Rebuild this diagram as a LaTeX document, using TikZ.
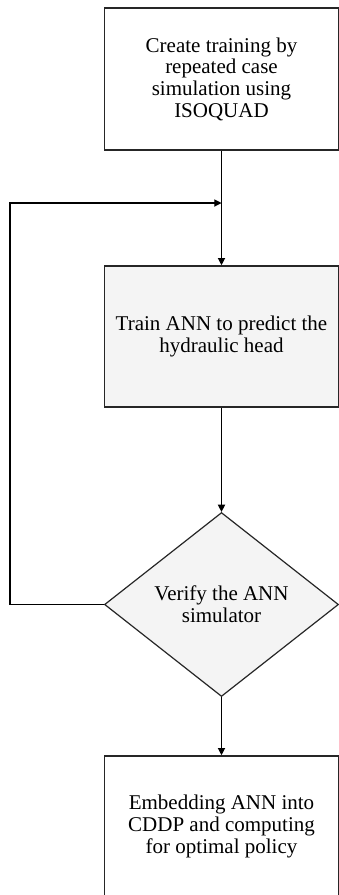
\documentclass[tikz,border=0pt]{standalone}
\usepackage{fontspec}
\setmainfont{Liberation Serif}
\usetikzlibrary{shapes.geometric,arrows.meta}
\definecolor{boxgray}{HTML}{F4F4F4}
\tikzset{
  stepbox/.style={draw=black!85, line width=0.8pt, minimum width=117pt, minimum height=71pt,
    inner sep=0pt, align=center, font=\fontsize{10.5}{10.85}\selectfont},
  checkbox/.style={diamond, draw=black!85, fill=boxgray, line width=0.6pt, aspect=1.27,
    minimum width=117pt, minimum height=92pt, inner sep=0pt, align=center,
    font=\fontsize{10.5}{10.85}\selectfont},
  flow/.style={line width=0.55pt, -{Triangle[length=3.6pt,width=3.6pt]}}
}
\begin{document}
\begin{tikzpicture}[x=0.5pt,y=-0.5pt]
            \useasboundingbox (0,0) rectangle (338,895);
            \node[stepbox] (create) at (221.5,79) {Create training by\\repeated case\\simulation using\\ISOQUAD};
            \node[stepbox, fill=boxgray, minimum height=70.5pt] (train) at (221.5,336.5) {Train ANN to predict the\\hydraulic head};
            \node[checkbox] (verify) at (221.5,604.5) {Verify the ANN\\simulator};
            \node[stepbox, minimum height=70.5pt] (embed) at (221.5,826.5) {Embedding ANN into\\CDDP and computing\\for optimal policy};

            \coordinate (join) at (221.5,203);
            \coordinate (back) at (10,604.5);

            \draw[line width=0.55pt] (create) -- (join);
            \draw[flow] (join) -- (train);
            \draw[flow] (train) -- (verify);
            \draw[flow] (verify) -- (embed);
            \draw[flow] (verify.west) -- (back) |- (join);
        \end{tikzpicture}
\end{document}
